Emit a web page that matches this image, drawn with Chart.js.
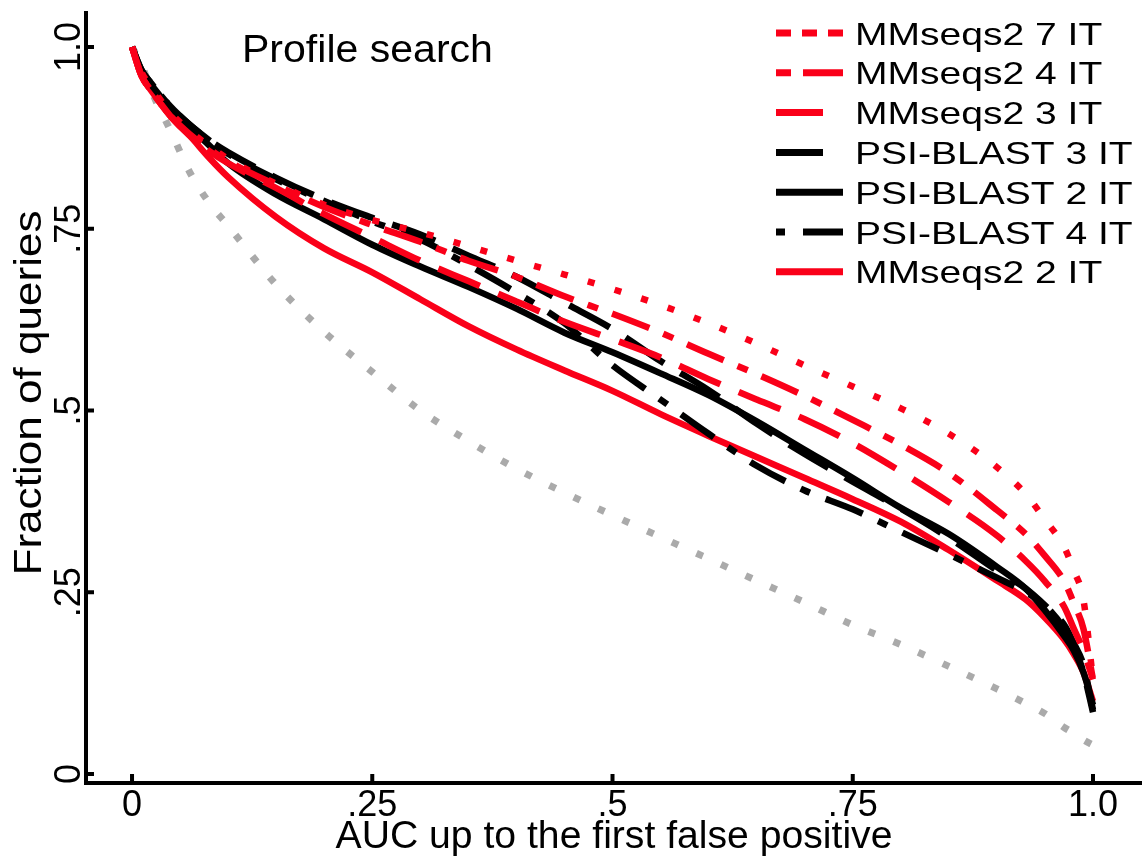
<!DOCTYPE html>
<html>
<head>
<meta charset="utf-8">
<script src="https://cdn.jsdelivr.net/npm/chart.js@4.4.1/dist/chart.umd.min.js"></script>
<style>
  html, body { margin: 0; padding: 0; background: #fff; }
  canvas { display: block; }
</style>
</head>
<body>
<canvas id="grafico" width="1142" height="860"></canvas>
<script>
// AUC grid shared by all curves
const auc = [0, 0.01, 0.02, 0.04, 0.06, 0.08, 0.1, 0.15, 0.2, 0.25, 0.3, 0.35, 0.4, 0.45, 0.5,
  0.55, 0.6, 0.65, 0.7, 0.75, 0.8, 0.85, 0.9, 0.93, 0.95, 0.97, 0.98, 0.99, 1.0];

const mm7 = [1.0, 0.965, 0.945, 0.91, 0.885, 0.864, 0.846, 0.812, 0.783, 0.762, 0.745, 0.726, 0.706, 0.687, 0.667,
  0.645, 0.620, 0.592, 0.562, 0.533, 0.503, 0.468, 0.422, 0.385, 0.350, 0.312, 0.280, 0.240, 0.13];
const mm4 = [1.0, 0.96, 0.94, 0.905, 0.88, 0.86, 0.843, 0.81, 0.78, 0.755, 0.732, 0.706, 0.684, 0.657, 0.633,
  0.607, 0.578, 0.55, 0.52, 0.487, 0.453, 0.414, 0.363, 0.330, 0.300, 0.265, 0.235, 0.20, 0.13];
const mm3 = [1.0, 0.96, 0.94, 0.905, 0.878, 0.857, 0.84, 0.806, 0.77, 0.738, 0.706, 0.678, 0.65, 0.622, 0.598,
  0.573, 0.543, 0.515, 0.488, 0.455, 0.416, 0.374, 0.328, 0.293, 0.265, 0.23, 0.20, 0.17, 0.13];
const psi3 = [1.0, 0.968, 0.95, 0.918, 0.893, 0.872, 0.855, 0.82, 0.79, 0.765, 0.742, 0.713, 0.684, 0.648, 0.612,
  0.568, 0.528, 0.482, 0.44, 0.402, 0.365, 0.325, 0.28, 0.255, 0.232, 0.205, 0.18, 0.15, 0.088];
const psi2 = [1.0, 0.965, 0.948, 0.915, 0.89, 0.865, 0.84, 0.797, 0.763, 0.728, 0.698, 0.67, 0.64, 0.607, 0.58,
  0.551, 0.521, 0.485, 0.446, 0.407, 0.366, 0.33, 0.285, 0.255, 0.225, 0.19, 0.17, 0.14, 0.095];
const psi4 = [1.0, 0.968, 0.95, 0.918, 0.893, 0.872, 0.853, 0.818, 0.788, 0.76, 0.735, 0.70, 0.662, 0.62, 0.562,
  0.515, 0.468, 0.424, 0.39, 0.364, 0.333, 0.302, 0.27, 0.25, 0.232, 0.2, 0.175, 0.14, 0.085];
const mm2 = [1.0, 0.96, 0.94, 0.905, 0.878, 0.848, 0.821, 0.766, 0.723, 0.69, 0.653, 0.616, 0.584, 0.555, 0.527,
  0.495, 0.465, 0.436, 0.407, 0.378, 0.347, 0.308, 0.266, 0.24, 0.215, 0.185, 0.165, 0.14, 0.10];
// random baseline (grey dots, no legend entry)
const azar = [1.0, 0.975, 0.94, 0.885, 0.828, 0.786, 0.754, 0.673, 0.608, 0.553, 0.50, 0.458, 0.42, 0.387, 0.356,
  0.326, 0.296, 0.266, 0.236, 0.205, 0.178, 0.148, 0.117, 0.097, 0.083, 0.064, 0.056, 0.047, 0.04];

const xTicks = [0, 0.25, 0.5, 0.75, 1.0];
const xTickLabels = ["0", ".25", ".5", ".75", "1.0"];
const yTicks = [0, 0.25, 0.5, 0.75, 1.0];
const yTickLabels = ["0", ".25", ".5", ".75", "1.0"];

const ROJO = "rgb(250, 0, 25)";
const NEGRO = "#000";
const FUENTE = "'Liberation Sans', Arial, sans-serif";

function serie(label, ys, color, dash, legendDash) {
  return {
    label: label,
    data: auc.map((x, i) => ({ x: x, y: ys[i] })),
    borderColor: color,
    borderWidth: 6.5,
    borderDash: dash,
    borderCapStyle: "butt",
    legendDash: legendDash,
    fill: false,
    pointRadius: 0,
    cubicInterpolationMode: "monotone",
  };
}

const datasets = [
  serie("MMseqs2 7 IT", mm7, ROJO, [7, 21], [15, 11]),
  serie("MMseqs2 4 IT", mm4, ROJO, [40, 15, 11, 15], [15, 12, 40, 12]),
  serie("MMseqs2 3 IT", mm3, ROJO, [45, 20], [47, 30]),
  serie("PSI-BLAST 3 IT", psi3, NEGRO, [46, 19], [47, 30]),
  serie("PSI-BLAST 2 IT", psi2, NEGRO, [], []),
  serie("PSI-BLAST 4 IT", psi4, NEGRO, [40, 17, 10, 17], [9, 18, 40, 18]),
  serie("MMseqs2 2 IT", mm2, ROJO, [], []),
];
const base = serie("", azar, "#aaaaaa", [7, 20], []);
base.borderWidth = 7;
datasets.push(base);

function texto(ctx, str, x, y, size, sx, align, rot) {
  ctx.save();
  ctx.translate(x, y);
  if (rot) ctx.rotate(rot);
  ctx.scale(sx, 1);
  ctx.font = size + "px " + FUENTE;
  ctx.fillStyle = "#000";
  ctx.textAlign = align;
  ctx.textBaseline = "alphabetic";
  ctx.fillText(str, 0, 0);
  ctx.restore();
}

const decoracion = {
  id: "decoracion",
  afterDraw(chart) {
    const ctx = chart.ctx;
    const xs = chart.scales.x;
    const ys = chart.scales.y;
    const area = chart.chartArea;

    // inward tick marks
    ctx.save();
    ctx.strokeStyle = "#000";
    ctx.lineWidth = 4;
    ctx.beginPath();
    xTicks.forEach((v) => {
      const px = xs.getPixelForValue(v);
      ctx.moveTo(px, area.bottom);
      ctx.lineTo(px, area.bottom - 9);
    });
    yTicks.forEach((v) => {
      const py = ys.getPixelForValue(v);
      ctx.moveTo(area.left, py);
      ctx.lineTo(area.left + 8, py);
    });
    ctx.stroke();
    ctx.restore();

    // tick labels
    xTicks.forEach((v, i) => {
      texto(ctx, xTickLabels[i], xs.getPixelForValue(v), area.bottom + 33, 36, 1.0, "center");
    });
    yTicks.forEach((v, i) => {
      texto(ctx, yTickLabels[i], area.left - 6, ys.getPixelForValue(v), 36, 1.0, "center", -Math.PI / 2);
    });

    // axis titles
    texto(ctx, "AUC up to the first false positive", (area.left + area.right) / 2, 848, 38, 1.03, "center");
    texto(ctx, "Fraction of queries", 41, (area.top + area.bottom) / 2 - 5, 38, 1.16, "center", -Math.PI / 2);

    // panel title
    texto(ctx, "Profile search", 242, 62, 38, 1.08, "left");

    // legend
    chart.data.datasets.forEach((ds, i) => {
      if (!ds.label) return;
      const cy = 33 + i * 39.8;
      ctx.save();
      ctx.strokeStyle = ds.borderColor;
      ctx.lineWidth = 7;
      ctx.lineCap = "butt";
      ctx.setLineDash(ds.legendDash);
      ctx.beginPath();
      ctx.moveTo(776, cy);
      ctx.lineTo(843, cy);
      ctx.stroke();
      ctx.restore();
      texto(ctx, ds.label, 855, cy + 11.5, 32, 1.22, "left");
    });
  },
};

const ctx = document.getElementById("grafico").getContext("2d");
new Chart(ctx, {
  type: "line",
  data: { datasets: datasets },
  options: {
    responsive: false,
    animation: false,
    layout: { padding: { top: 13, right: 0, left: 0, bottom: 0 } },
    plugins: { legend: { display: false }, tooltip: { enabled: false }, title: { display: false } },
    scales: {
      x: {
        type: "linear",
        min: -0.0479,
        max: 1.051,
        grid: { display: false },
        border: { display: true, color: "#000", width: 4 },
        ticks: { display: false },
        afterFit: (s) => { s.height = 77; },
      },
      y: {
        type: "linear",
        min: -0.01238,
        max: 1.0467,
        grid: { display: false },
        border: { display: true, color: "#000", width: 4 },
        ticks: { display: false },
        afterFit: (s) => { s.width = 86; },
      },
    },
  },
  plugins: [decoracion],
});
</script>
</body>
</html>
